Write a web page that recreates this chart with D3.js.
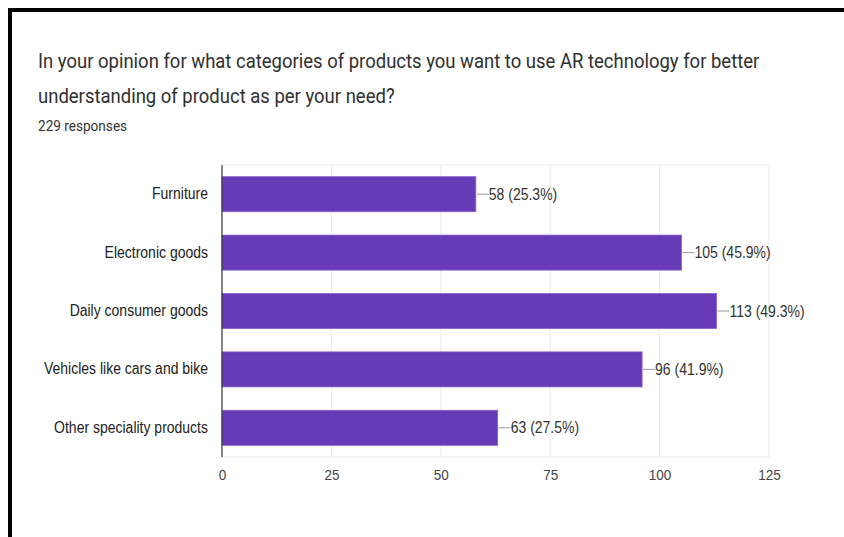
<!DOCTYPE html>
<html>
<head>
<meta charset="utf-8">
<script src="https://cdn.jsdelivr.net/npm/d3@7"></script>
<style>
  html, body { margin: 0; padding: 0; background: #fff; }
  svg { display: block; }
</style>
</head>
<body>
<svg id="chart" width="844" height="537"></svg>
<script>
// Survey answers: product categories for AR use
const titleLines = [
  "In your opinion for what categories of products you want to use AR technology for better",
  "understanding of product as per your need?"
];
const subtitle = "229 responses";
const categories = [
  "Furniture",
  "Electronic goods",
  "Daily consumer goods",
  "Vehicles like cars and bike",
  "Other speciality products"
];
const counts = [58, 105, 113, 96, 63];
const totalResponses = 229;
const xTicks = [0, 25, 50, 75, 100, 125];

const svg = d3.select("#chart");
const W = 844, H = 537;
const stretchY = 1.13;   // glyphs are drawn slightly tall

// Places a text at (x, y) with a small vertical stretch about its baseline
function placeText(sel, px, py) {
  return sel.attr("transform", `translate(${px},${py}) scale(1,${stretchY})`);
}

// Card frame: heavy rule along top and left edges
svg.append("rect").attr("x", 0).attr("y", 0).attr("width", W).attr("height", H).attr("fill", "#fff");
svg.append("rect").attr("x", 8).attr("y", 8).attr("width", W - 8).attr("height", 4).attr("fill", "#000");
svg.append("rect").attr("x", 8).attr("y", 8).attr("width", 4).attr("height", H - 8).attr("fill", "#000");

// Heading
const title = svg.append("g").attr("font-family", "Roboto, sans-serif").attr("fill", "#303030");
titleLines.forEach((line, i) => {
  placeText(title.append("text"), 38, 68 + i * 35)
    .attr("font-size", 18.5)
    .text(line);
});
placeText(title.append("text"), 38, 131)
  .attr("font-size", 13.6)
  .attr("fill", "#333")
  .text(subtitle);

// Plot area
const plot = { left: 222, right: 769, top: 165, bottom: 457 };

const x = d3.scaleLinear().domain([0, 125]).range([plot.left, plot.right]);
const y = d3.scaleBand().domain(categories).range([plot.top, plot.bottom])
  .paddingInner(0.4).paddingOuter(0.2);

const font = "'Liberation Sans', Arial, sans-serif";

// Vertical gridlines
svg.append("g")
  .selectAll("line").data(xTicks.slice(1)).join("line")
  .attr("x1", d => x(d)).attr("x2", d => x(d))
  .attr("y1", plot.top).attr("y2", plot.bottom)
  .attr("stroke", "#ebebeb").attr("stroke-width", 1);
// Top and bottom frame lines of the plot
svg.append("g")
  .selectAll("line").data([plot.top, plot.bottom]).join("line")
  .attr("x1", plot.left).attr("x2", plot.right)
  .attr("y1", d => d).attr("y2", d => d)
  .attr("stroke", "#ebebeb").attr("stroke-width", 1);

// Bars
svg.append("g")
  .selectAll("rect").data(categories).join("rect")
  .attr("x", x(0))
  .attr("y", d => y(d))
  .attr("width", (d, i) => x(counts[i]) - x(0))
  .attr("height", y.bandwidth())
  .attr("fill", "#673ab7")
  .attr("stroke", "#8a63cc")
  .attr("stroke-width", 0.8);

// Baseline axis
svg.append("line")
  .attr("x1", x(0)).attr("x2", x(0))
  .attr("y1", plot.top).attr("y2", plot.bottom)
  .attr("stroke", "#333").attr("stroke-width", 1.2);

// Value annotations with leader lines
const ann = svg.append("g").attr("font-family", font).attr("font-size", 14).attr("fill", "#333");
categories.forEach((c, i) => {
  const cx = x(counts[i]);
  const cy = y(c) + y.bandwidth() / 2;
  ann.append("line")
    .attr("x1", cx + 1).attr("x2", cx + 13)
    .attr("y1", cy).attr("y2", cy)
    .attr("stroke", "#999").attr("stroke-width", 1);
  placeText(ann.append("text"), cx + 13, cy)
    .attr("dy", "0.35em")
    .text(`${counts[i]} (${(counts[i] / totalResponses * 100).toFixed(1)}%)`);
});

// Category axis labels
const yAxis = d3.axisLeft(y).tickSize(0).tickPadding(14);
const gy = svg.append("g").attr("transform", `translate(${plot.left},0)`).call(yAxis);
gy.select(".domain").remove();
gy.selectAll("text")
  .attr("font-family", font).attr("font-size", 14).attr("fill", "#222")
  .attr("transform", `scale(1,${stretchY})`);

// Value axis labels
const xAxis = d3.axisBottom(x).tickValues(xTicks).tickSize(0).tickPadding(11).tickFormat(d3.format("d"));
const gx = svg.append("g").attr("transform", `translate(0,${plot.bottom})`).call(xAxis);
gx.select(".domain").remove();
gx.selectAll("text")
  .attr("font-family", font).attr("font-size", 13.5).attr("fill", "#444")
  .attr("transform", `scale(1,${stretchY})`);
</script>
</body>
</html>
